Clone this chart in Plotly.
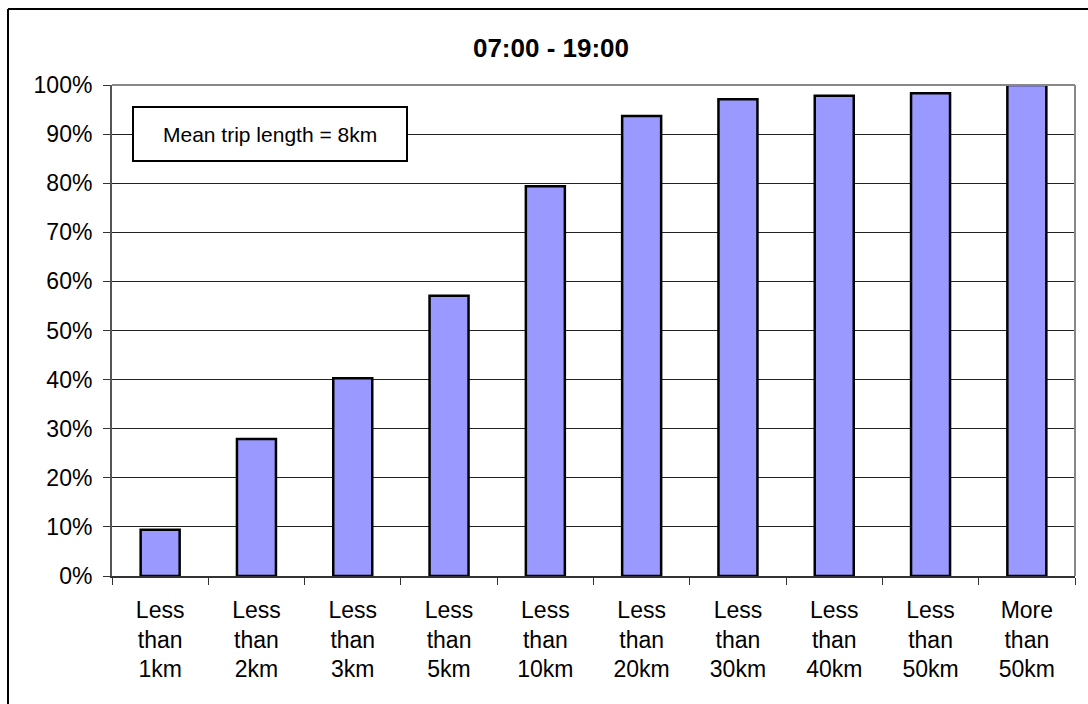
import plotly.graph_objects as go

# Cumulative share of trips by trip length, 07:00 - 19:00
categories = ["Less<br>than<br>1km", "Less<br>than<br>2km", "Less<br>than<br>3km",
              "Less<br>than<br>5km", "Less<br>than<br>10km", "Less<br>than<br>20km",
              "Less<br>than<br>30km", "Less<br>than<br>40km", "Less<br>than<br>50km",
              "More<br>than<br>50km"]
cumulative_share = [0.094, 0.279, 0.403, 0.571, 0.794, 0.937, 0.971, 0.978, 0.983, 1.0]
y_ticks = [0, 0.1, 0.2, 0.3, 0.4, 0.5, 0.6, 0.7, 0.8, 0.9, 1.0]
title_text = "07:00 - 19:00"
note_text = "Mean trip length = 8km"

W, H = 1088, 704
L, R, T, B = 112, 13, 85, 128
PW, PH = W - L - R, H - T - B

def px_x(x):
    return (x - L) / PW

def px_y(y):
    return (H - B - y) / PH

FONT = "Liberation Sans, Arial, sans-serif"

fig = go.Figure(go.Bar(
    x=categories,
    y=cumulative_share,
    marker=dict(color="#9999FF", line=dict(color="#000000", width=2.5)),
    hoverinfo="skip",
))

fig.update_layout(
    width=W, height=H,
    margin=dict(l=L, r=R, t=T, b=B),
    paper_bgcolor="white",
    plot_bgcolor="white",
    bargap=0.595,
    showlegend=False,
    font=dict(family=FONT, size=23, color="black"),
    title=dict(text="<b>" + title_text + "</b>", x=551 / W, xanchor="center",
               y=1 - 48 / H, yanchor="middle", yref="container",
               font=dict(family=FONT, size=26, color="black")),
)

fig.update_xaxes(
    type="category",
    showgrid=False,
    showline=True, linecolor="#333333", linewidth=2,
    ticks="outside", ticklen=7, tickwidth=1, tickcolor="#333333",
    tickson="boundaries",
    tickfont=dict(family=FONT, size=23, color="black"),
    ticklabelstandoff=12,
    zeroline=False,
)

fig.update_yaxes(
    range=[0, 1.0],
    tickvals=y_ticks,
    tickformat=".0%",
    showgrid=True, gridcolor="#222222", gridwidth=1,
    showline=True, linecolor="#555555", linewidth=2,
    ticks="outside", ticklen=7, tickwidth=1, tickcolor="#333333",
    tickfont=dict(family=FONT, size=23, color="black"),
    ticklabelstandoff=6,
    zeroline=False,
)

shapes = [
    # plot area frame (top and right edges)
    dict(type="line", xref="paper", yref="paper", x0=0, x1=1, y0=1, y1=1,
         line=dict(color="#888888", width=2), layer="above"),
    dict(type="line", xref="paper", yref="paper", x0=1, x1=1, y0=0, y1=1,
         line=dict(color="#888888", width=2), layer="above"),
    # chart border (left and top)
    dict(type="line", xref="paper", yref="paper",
         x0=px_x(8), x1=px_x(W + 5), y0=px_y(9), y1=px_y(9),
         line=dict(color="#000000", width=2)),
    dict(type="line", xref="paper", yref="paper",
         x0=px_x(8), x1=px_x(8), y0=px_y(9), y1=px_y(H + 5),
         line=dict(color="#000000", width=2)),
    # note box
    dict(type="rect", xref="paper", yref="paper",
         x0=px_x(133), x1=px_x(407), y0=px_y(161), y1=px_y(107),
         fillcolor="white", line=dict(color="#000000", width=2), layer="above"),
]
fig.update_layout(shapes=shapes)

fig.add_annotation(
    text=note_text, xref="paper", yref="paper",
    x=px_x(270), y=px_y(134), xanchor="center", yanchor="middle",
    showarrow=False, font=dict(family=FONT, size=21, color="black"),
)

fig.write_html("out.html")
